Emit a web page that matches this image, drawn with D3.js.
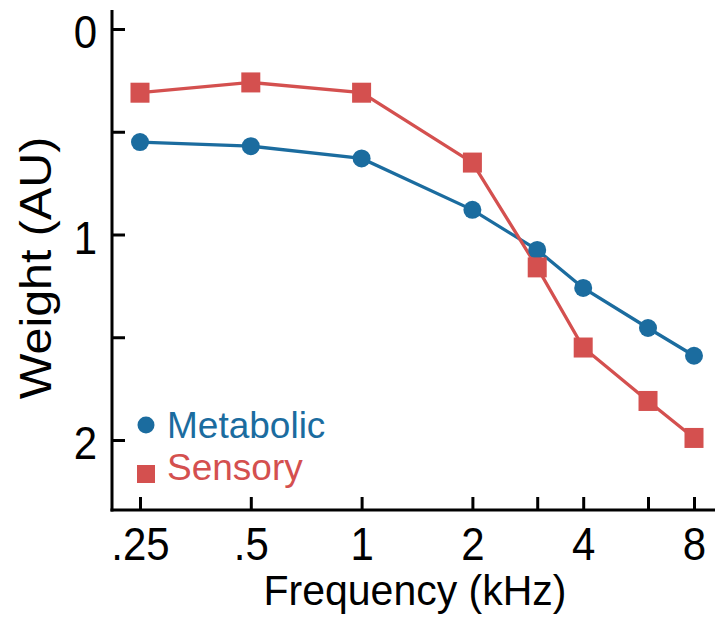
<!DOCTYPE html>
<html>
<head>
<meta charset="utf-8">
<script src="https://cdn.jsdelivr.net/npm/d3@7/dist/d3.min.js"></script>
<style>
  html, body { margin: 0; padding: 0; background: #fff; }
  svg { display: block; font-family: "Liberation Sans", Arial, sans-serif; }
</style>
</head>
<body>
<svg id="chart" width="715" height="618"></svg>
<script>
// Frequencies (kHz) and the weight of each model at each frequency
const frequencies = [0.25, 0.5, 1, 2, 3, 4, 6, 8];
const metabolic = [0.55, 0.57, 0.63, 0.88, 1.075, 1.26, 1.455, 1.59];
const sensory   = [0.31, 0.26, 0.31, 0.65, 1.16, 1.55, 1.81, 1.99];

const xTickValues = [0.25, 0.5, 1, 2, 3, 4, 6, 8];
const xTickLabels = [".25", ".5", "1", "2", "", "4", "", "8"];
const yTickValues = [0, 0.5, 1, 1.5, 2];
const yTickLabels = ["0", "", "1", "", "2"];

const seriesNames = ["Metabolic", "Sensory"];
const colors = { Metabolic: "#1b6c9f", Sensory: "#d4504f" };

const svg = d3.select("#chart");
const axisX = 112, axisY = 510;

const x = d3.scaleLog().base(2).domain([0.25, 8]).range([140, 694]);
const y = d3.scaleLinear().domain([0, 2]).range([29, 440]);

// Axis lines
svg.append("line").attr("x1", axisX).attr("x2", axisX).attr("y1", 10).attr("y2", axisY + 1.5)
  .attr("stroke", "#000").attr("stroke-width", 3);
svg.append("line").attr("x1", axisX - 1.5).attr("x2", 715).attr("y1", axisY).attr("y2", axisY)
  .attr("stroke", "#000").attr("stroke-width", 3);

// Y axis (inverted: 0 at top), ticks pointing inward
const yAxis = d3.axisLeft(y).tickValues(yTickValues)
  .tickFormat((d, i) => yTickLabels[i]).tickSizeInner(-13).tickSizeOuter(0).tickPadding(15);
const gy = svg.append("g").attr("transform", `translate(${axisX},0)`).call(yAxis);
gy.select(".domain").remove();
gy.selectAll(".tick line").attr("stroke", "#000").attr("stroke-width", 3);
gy.selectAll(".tick text").attr("font-size", 42).attr("fill", "#000")
  .attr("font-family", "Liberation Sans, Arial, sans-serif")
  .attr("x", 0).attr("dy", null)
  .attr("transform", "translate(-15,18.5) scale(1,1.1)");

// X axis (log2 frequency), ticks pointing inward
const xAxis = d3.axisBottom(x).tickValues(xTickValues)
  .tickFormat((d, i) => xTickLabels[i]).tickSizeInner(-13).tickSizeOuter(0).tickPadding(19);
const gx = svg.append("g").attr("transform", `translate(0,${axisY})`).call(xAxis);
gx.select(".domain").remove();
gx.selectAll(".tick line").attr("stroke", "#000").attr("stroke-width", 3);
gx.selectAll(".tick text").attr("font-size", 42).attr("fill", "#000")
  .attr("font-family", "Liberation Sans, Arial, sans-serif")
  .attr("y", 0).attr("dy", null)
  .attr("transform", "translate(0,50) scale(1,1.1)");

// Axis titles
svg.append("text").attr("transform", "translate(415,605) scale(1,1.05)").attr("text-anchor", "middle")
  .attr("font-size", 41).attr("fill", "#000").text("Frequency (kHz)");
svg.append("text").attr("transform", "translate(51,268) rotate(-90) scale(1.1,1)")
  .attr("text-anchor", "middle").attr("font-size", 44).attr("fill", "#000").text("Weight (AU)");

// Series lines
const line = d3.line().x(d => x(d[0])).y(d => y(d[1]));
const metPts = frequencies.map((f, i) => [f, metabolic[i]]);
const senPts = frequencies.map((f, i) => [f, sensory[i]]);

svg.append("path").datum(metPts).attr("d", line).attr("fill", "none")
  .attr("stroke", colors.Metabolic).attr("stroke-width", 3.3);
svg.append("path").datum(senPts).attr("d", line).attr("fill", "none")
  .attr("stroke", colors.Sensory).attr("stroke-width", 3.3);

// Markers
svg.append("g").selectAll("circle").data(metPts).join("circle")
  .attr("cx", d => x(d[0])).attr("cy", d => y(d[1])).attr("r", 9)
  .attr("fill", colors.Metabolic);
const sq = 19;
svg.append("g").selectAll("rect").data(senPts).join("rect")
  .attr("x", d => x(d[0]) - sq / 2).attr("y", d => y(d[1]) - 10)
  .attr("width", sq).attr("height", 20).attr("fill", colors.Sensory);

// Legend
const legend = svg.append("g");
legend.append("circle").attr("cx", 146).attr("cy", 425).attr("r", 8.5).attr("fill", colors.Metabolic);
legend.append("text").attr("x", 167).attr("y", 438).attr("font-size", 37)
  .attr("fill", colors.Metabolic).text(seriesNames[0]);
legend.append("rect").attr("x", 137).attr("y", 465).attr("width", 18).attr("height", 18)
  .attr("fill", colors.Sensory);
legend.append("text").attr("x", 167).attr("y", 480).attr("font-size", 37)
  .attr("fill", colors.Sensory).text(seriesNames[1]);
</script>
</body>
</html>
